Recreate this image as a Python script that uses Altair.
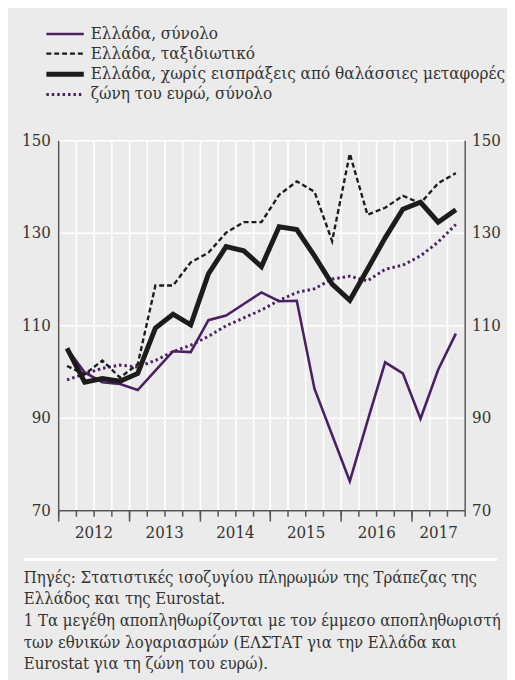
import altair as alt
import pandas as pd

# ---- data ----
quarters = [f"{y}Q{q}" for y in range(2012, 2018) for q in range(1, 5)][:23]
greece_total = [105.0, 99.8, 97.7, 97.3, 96.0, 100.2, 104.4, 104.2, 111.1, 112.1, 114.6, 117.1,
                115.2, 115.3, 96.3, 86.3, 76.3, 89.3, 102.0, 99.6, 89.8, 100.4, 108.2]
greece_travel = [101.2, 99.4, 102.4, 98.7, 101.6, 118.6, 118.6, 123.6, 125.7, 130.0, 132.3, 132.3,
                 138.2, 141.1, 138.9, 128.2, 147.1, 133.9, 135.4, 138.0, 136.4, 140.7, 142.9]
greece_ex_shipping = [105.0, 97.7, 98.5, 97.9, 99.6, 109.4, 112.4, 110.1, 121.1, 127.0, 126.1, 122.7,
                      131.3, 130.7, 125.0, 118.9, 115.4, 122.1, 128.9, 135.1, 136.6, 132.3, 135.0]
euro_area = [98.2, 99.5, 100.7, 101.4, 101.0, 102.4, 104.3, 105.7, 107.6, 109.9, 111.6, 113.3,
             115.4, 117.1, 117.9, 120.0, 120.6, 119.6, 122.1, 123.0, 125.0, 128.0, 131.8]

series_names = ["Ελλάδα, σύνολο", "Ελλάδα, ταξιδιωτικό",
                "Ελλάδα, χωρίς εισπράξεις από θαλάσσιες μεταφορές", "ζώνη του ευρώ, σύνολο"]
years = [2012, 2013, 2014, 2015, 2016, 2017]
y_ticks = [70, 90, 110, 130, 150]
footer_lines = [
    "Πηγές: Στατιστικές ισοζυγίου πληρωμών της Τράπεζας της",
    "Ελλάδος και της Eurostat.",
    "1 Τα μεγέθη αποπληθωρίζονται με τον έμμεσο αποπληθωριστή",
    "των εθνικών λογαριασμών (ΕΛΣΤΑΤ για την Ελλάδα και",
    "Eurostat για τη ζώνη του ευρώ).",
]

PURPLE = "#4a2063"
BLACK = "#1c1c1c"
BG = "#ebebeb"
AXC = "#555555"
TXT = "#333333"
FONT = "DejaVu Serif Condensed"

styles = {
    series_names[0]: dict(color=PURPLE, strokeWidth=2.6),
    series_names[1]: dict(color=BLACK, strokeWidth=2.4, strokeDash=[5, 3]),
    series_names[2]: dict(color=BLACK, strokeWidth=5),
    series_names[3]: dict(color=PURPLE, strokeWidth=3, strokeDash=[2.5, 3]),
}
values = dict(zip(series_names, [greece_total, greece_travel, greece_ex_shipping, euro_area]))

def frame(name):
    return pd.DataFrame({"q": quarters, "t": [i + 0.5 for i in range(len(quarters))],
                         "v": values[name]})

xscale = alt.Scale(domain=[0, 23], nice=False, zero=False)
yscale = alt.Scale(domain=[70, 150], nice=False, zero=False)

main_x_axis = alt.Axis(orient="bottom", values=list(range(0, 24)), labels=False, title=None,
                       tickSize=6, tickColor=AXC, tickWidth=1.5, domainColor=AXC, domainWidth=1.5,
                       grid=True, gridColor="white", gridWidth=1.6)
year_tick_axis = alt.Axis(orient="bottom", values=[0, 4, 8, 12, 16, 20], labels=False, title=None,
                          tickSize=11, tickColor=AXC, tickWidth=1.5, domain=False, grid=False)
year_label_axis = alt.Axis(orient="bottom", values=[2, 6, 10, 14, 18, 21.5], ticks=False,
                           domain=False, grid=False, title=None,
                           labelExpr="2012 + floor(datum.value / 4)",
                           labelFontSize=17, labelFont=FONT, labelColor=TXT, labelPadding=15)
left_axis = alt.Axis(orient="left", values=y_ticks, title=None, ticks=False, labelPadding=8,
                     labelFontSize=17, labelFont=FONT, labelColor=TXT, domainColor=AXC,
                     domainWidth=1.5, grid=True, gridColor="white", gridWidth=1.6)
right_axis = alt.Axis(orient="right", values=y_ticks, title=None, ticks=False, labelPadding=7,
                      labelFontSize=17, labelFont=FONT, labelColor=TXT, domainColor=AXC,
                      domainWidth=1.5, grid=False)

order = [series_names[3], series_names[0], series_names[1], series_names[2]]
axes_cfg = [(main_x_axis, left_axis), (year_tick_axis, None), (year_label_axis, None), (None, right_axis)]

layers = []
for name, (xa, ya) in zip(order, axes_cfg):
    layers.append(
        alt.Chart(frame(name)).mark_line(**styles[name]).encode(
            x=alt.X("t:Q", scale=xscale, axis=xa),
            y=alt.Y("v:Q", scale=yscale, axis=ya),
        )
    )

# ---- legend (manual) ----
legend_y = [-108, -88, -67, -46.5]
for name, ly in zip(series_names, legend_y):
    st = dict(styles[name])
    layers.append(
        alt.Chart(pd.DataFrame({"s": [name]})).mark_rule(**st).encode(
            x=alt.value(-12), x2=alt.value(26), y=alt.value(ly))
    )
    layers.append(
        alt.Chart(pd.DataFrame({"s": [name]})).mark_text(
            align="left", baseline="middle", font=FONT, fontSize=17.3, color=TXT
        ).encode(text="s:N", x=alt.value(33), y=alt.value(ly))
    )

# ---- footer ----
layers.append(
    alt.Chart(pd.DataFrame({"a": [0]})).mark_rule(color="white", strokeWidth=3).encode(
        x=alt.value(-35), x2=alt.value(446), y=alt.value(426))
)
footer_y = [445, 466.5, 489, 511, 532.5]
for line, fy in zip(footer_lines, footer_y):
    layers.append(
        alt.Chart(pd.DataFrame({"s": [line]})).mark_text(
            align="left", baseline="middle", font=FONT, fontSize=16.9, color=TXT
        ).encode(text="s:N", x=alt.value(-35), y=alt.value(fy))
    )

chart = alt.layer(*layers).resolve_axis(x="independent", y="independent").properties(
    width=413, height=376,
    autosize=alt.AutoSizeParams(type="none"),
    padding={"left": 51, "top": 129, "right": 43, "bottom": 167},
    background=BG,
).configure_view(stroke=None)

chart.save("out.html", embed_options={"renderer": "svg", "actions": False})
